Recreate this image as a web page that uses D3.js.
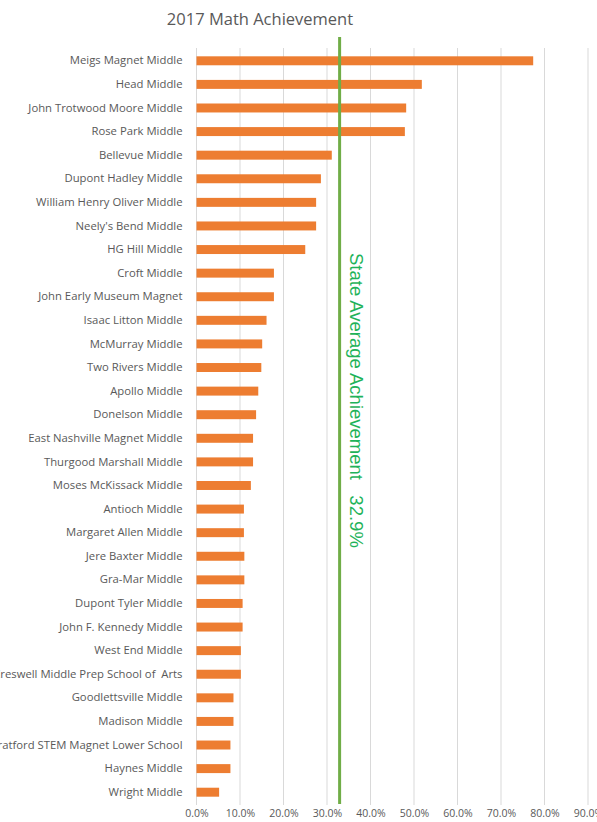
<!DOCTYPE html>
<html><head><meta charset="utf-8">
<script src="https://cdn.jsdelivr.net/npm/d3@7"></script>
<style>body{margin:0;background:#fff}svg{display:block}</style>
</head><body>
<svg id="c" width="597" height="822"></svg>
<script>
const schools = ["Meigs Magnet Middle","Head Middle","John Trotwood Moore Middle","Rose Park Middle","Bellevue Middle","Dupont Hadley Middle","William Henry Oliver Middle","Neely's Bend Middle","HG Hill Middle","Croft Middle","John Early Museum Magnet","Isaac Litton Middle","McMurray Middle","Two Rivers Middle","Apollo Middle","Donelson Middle","East Nashville Magnet Middle","Thurgood Marshall Middle","Moses McKissack Middle","Antioch Middle","Margaret Allen Middle","Jere Baxter Middle","Gra-Mar Middle","Dupont Tyler Middle","John F. Kennedy Middle","West End Middle","Creswell Middle Prep School of  Arts","Goodlettsville Middle","Madison Middle","Stratford STEM Magnet Lower School","Haynes Middle","Wright Middle"];
const values = [77.4,51.8,48.2,47.9,31.1,28.6,27.5,27.5,25.0,17.8,17.8,16.1,15.1,14.9,14.2,13.7,13.0,13.0,12.5,10.9,10.9,11.0,11.0,10.6,10.6,10.2,10.2,8.5,8.5,7.8,7.8,5.2];
const ticks = [0,10,20,30,40,50,60,70,80,90];
const stateAvg = 32.9;
const title = "2017 Math Achievement";
const avgLabel = "State Average Achievement   32.9%";

const svg = d3.select("#c");
const font = "'Liberation Sans', Arial, sans-serif";
const font2 = "'Open Sans', sans-serif";
const x = d3.scaleLinear().domain([0,90]).range([196.5,588]);
const y = d3.scaleBand().domain(schools).range([49,804]).paddingInner(0.62).paddingOuter(0.31);

svg.append("text").attr("x",260).attr("y",25).attr("text-anchor","middle")
  .attr("font-family",font2).attr("font-size",16.5).attr("fill","#595959").text(title);

const grid = svg.append("g");
grid.selectAll("line").data(ticks).join("line")
  .attr("x1",d=>x(d)).attr("x2",d=>x(d)).attr("y1",48).attr("y2",805)
  .attr("stroke","#d9d9d9").attr("stroke-width",1);

svg.append("g").selectAll("rect").data(values).join("rect")
  .attr("x",x(0)).attr("y",(d,i)=>y(schools[i]))
  .attr("width",d=>x(d)-x(0)).attr("height",y.bandwidth())
  .attr("fill","#ed7d31");

const yAxis = svg.append("g").attr("transform",`translate(${x(0)},0)`)
  .call(d3.axisLeft(y).tickSize(0).tickPadding(14));
yAxis.select(".domain").remove();
yAxis.selectAll("text").attr("font-family",font2).attr("font-size",11.3).attr("fill","#595959")
  .attr("xml:space","preserve").style("white-space","pre");

const xAxis = svg.append("g").attr("transform","translate(0,805)")
  .call(d3.axisBottom(x).tickValues(ticks).tickSize(0).tickPadding(5).tickFormat(d=>d3.format(".1f")(d)+"%"));
xAxis.select(".domain").remove();
xAxis.selectAll("text").attr("font-family",font2).attr("font-size",10.5).attr("fill","#595959");

svg.append("line").attr("x1",x(stateAvg)).attr("x2",x(stateAvg)).attr("y1",37).attr("y2",804)
  .attr("stroke","#70ad47").attr("stroke-width",3);

svg.append("text").attr("transform",`translate(350,253) rotate(90)`)
  .attr("font-family",font).attr("font-size",18.5).attr("fill","#1fb35a")
  .attr("xml:space","preserve").style("white-space","pre").text(avgLabel);
</script>
</body></html>
